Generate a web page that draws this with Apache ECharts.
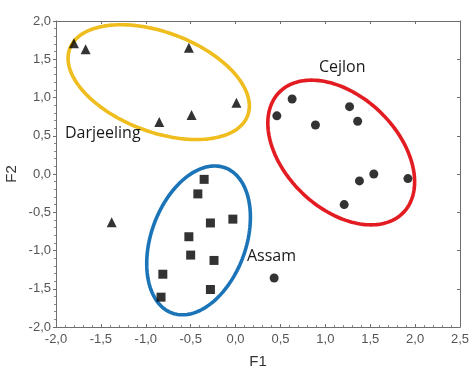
<!DOCTYPE html>
<html>
<head>
<meta charset="utf-8">
<script src="https://cdn.jsdelivr.net/npm/echarts@6/dist/echarts.min.js"></script>
<style>
  html, body { margin: 0; padding: 0; background: #ffffff; }
  #chart { width: 471px; height: 367px; }
</style>
</head>
<body>
<div id="chart"></div>
<script>
// Factor scores (F1, F2) per tea origin
const darjeeling = [[-1.80, 1.71], [-1.67, 1.63], [-0.52, 1.65], [0.01, 0.93], [-0.49, 0.77], [-0.85, 0.68], [-1.38, -0.63]];
const assam = [[-0.35, -0.07], [-0.42, -0.26], [-0.03, -0.59], [-0.28, -0.64], [-0.52, -0.82], [-0.50, -1.06], [-0.24, -1.13], [-0.81, -1.31], [-0.28, -1.51], [-0.83, -1.61]];
const cejlon = [[0.63, 0.98], [0.46, 0.76], [0.89, 0.64], [1.27, 0.88], [1.36, 0.69], [1.38, -0.09], [1.54, 0.00], [1.92, -0.06], [1.21, -0.40], [0.43, -1.36]];

// Group outlines: centre (F1, F2) and two conjugate semi-diameters in data units
const groupNames = ['Darjeeling', 'Cejlon', 'Assam'];
const outlineCentres = [[-0.856, 1.201], [1.177, 0.281], [-0.412, -0.868]];
const outlineAxisU = [[0.991, -0.437], [0.691, -0.786], [0.294, 0.950]];
const outlineAxisV = [[-0.194, -0.610], [-0.437, -0.526], [0.497, -0.210]];
const outlineColours = ['#EFBD1D', '#E21C21', '#1B74B8'];

// Group name anchors (F1, F2)
const nameAnchors = [[-1.90, 0.535], [1.188, 1.397], [0.40, -1.084]];
const nameAlign = ['left', 'center', 'center'];

// Axis ranges and tick step
const xRange = [-2.0, 2.5];
const yRange = [-2.0, 2.0];
const tickStep = 0.5;

const fmt = v => v.toFixed(1).replace('.', ',');

const axisLineStyle = { color: '#6e6e6e', width: 1 };

const outlineData = outlineCentres.map((c, i) => ({
  value: [c[0], c[1], outlineAxisU[i][0], outlineAxisU[i][1], outlineAxisV[i][0], outlineAxisV[i][1]],
  itemStyle: { color: outlineColours[i] }
}));

const chart = echarts.init(document.getElementById('chart'), null, { renderer: 'canvas' });

chart.setOption({
  animation: false,
  backgroundColor: '#ffffff',
  grid: { left: 56, right: 11, top: 21, bottom: 40, containLabel: false, outerBoundsMode: 'none' },
  xAxis: [
    {
      type: 'value', min: xRange[0], max: xRange[1], interval: tickStep,
      name: 'F1', nameLocation: 'middle', nameGap: 27,
      nameTextStyle: { fontFamily: 'Liberation Sans', fontSize: 15, color: '#333' },
      axisLine: { show: true, onZero: false, lineStyle: axisLineStyle },
      axisTick: { show: true, inside: true, length: 3, lineStyle: axisLineStyle },
      minorTick: { show: true, splitNumber: 5, length: 2, lineStyle: { color: '#8a8a8a' } },
      axisLabel: { formatter: fmt, fontFamily: 'Liberation Sans', fontSize: 13, color: '#555', margin: 6, showMinLabel: true, showMaxLabel: true },
      splitLine: { show: false }
    },
    {
      type: 'value', position: 'top', min: xRange[0], max: xRange[1], interval: tickStep,
      axisLine: { show: true, onZero: false, lineStyle: axisLineStyle },
      axisTick: { show: true, inside: true, length: 3, lineStyle: axisLineStyle },
      axisLabel: { show: false }, splitLine: { show: false }
    }
  ],
  yAxis: [
    {
      type: 'value', min: yRange[0], max: yRange[1], interval: tickStep,
      name: 'F2', nameLocation: 'middle', nameGap: 37, nameMoveOverlap: false,
      nameTextStyle: { fontFamily: 'Liberation Sans', fontSize: 15, color: '#333' },
      axisLine: { show: true, onZero: false, lineStyle: axisLineStyle },
      axisTick: { show: true, inside: false, length: 3, lineStyle: axisLineStyle },
      minorTick: { show: true, splitNumber: 5, length: 2, lineStyle: { color: '#8a8a8a' } },
      axisLabel: { formatter: fmt, fontFamily: 'Liberation Sans', fontSize: 13, color: '#555', margin: 5, showMinLabel: true, showMaxLabel: true },
      splitLine: { show: false }
    },
    {
      type: 'value', position: 'right', min: yRange[0], max: yRange[1], interval: tickStep,
      axisLine: { show: true, onZero: false, lineStyle: axisLineStyle },
      axisTick: { show: true, inside: true, length: 3, lineStyle: axisLineStyle },
      axisLabel: { show: false }, splitLine: { show: false }
    }
  ],
  series: [
    {
      type: 'custom',
      xAxisIndex: 0, yAxisIndex: 0,
      z: 1,
      silent: true,
      data: outlineData,
      encode: { x: 0, y: 1 },
      renderItem: function (params, api) {
        const cx = api.value(0), cy = api.value(1);
        const ux = api.value(2), uy = api.value(3);
        const vx = api.value(4), vy = api.value(5);
        const pts = [];
        const n = 160;
        for (let k = 0; k < n; k++) {
          const t = (k / n) * Math.PI * 2;
          const c = Math.cos(t), s = Math.sin(t);
          pts.push(api.coord([cx + ux * c + vx * s, cy + uy * c + vy * s]));
        }
        return {
          type: 'polygon',
          shape: { points: pts },
          style: { fill: 'none', stroke: api.visual('color'), lineWidth: 3.6 }
        };
      }
    },
    {
      type: 'scatter', name: 'Darjeeling', data: darjeeling, z: 3,
      symbol: 'triangle', symbolSize: 10,
      itemStyle: { color: '#000' }
    },
    {
      type: 'scatter', name: 'Assam', data: assam, z: 3,
      symbol: 'rect', symbolSize: 9,
      itemStyle: { color: '#000' }
    },
    {
      type: 'scatter', name: 'Cejlon', data: cejlon, z: 3,
      symbol: 'circle', symbolSize: 9,
      itemStyle: { color: '#000' }
    },
    {
      type: 'custom',
      z: 4,
      silent: true,
      data: nameAnchors,
      encode: { x: 0, y: 1 },
      renderItem: function (params, api) {
        const p = api.coord([api.value(0), api.value(1)]);
        return {
          type: 'text',
          x: p[0], y: p[1],
          style: {
            text: groupNames[params.dataIndex],
            align: nameAlign[params.dataIndex],
            verticalAlign: 'middle',
            font: '16px "Open Sans"',
            fill: '#1a1a1a'
          }
        };
      }
    }
  ]
});
</script>
</body>
</html>
